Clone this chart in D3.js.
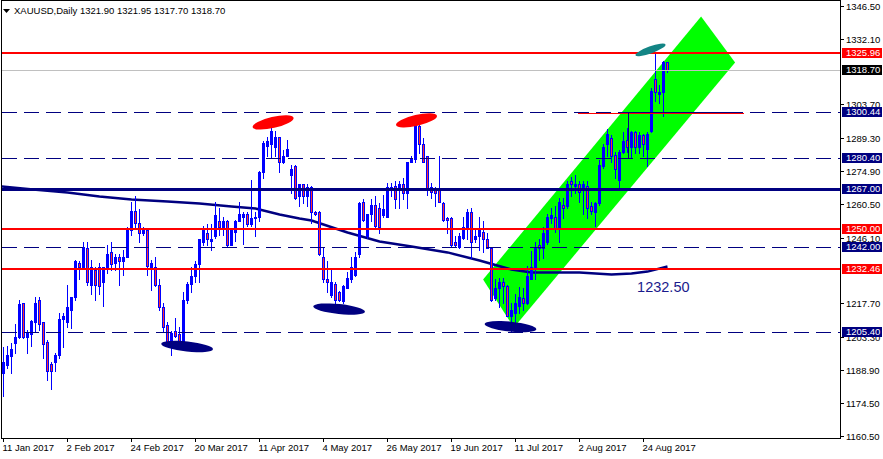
<!DOCTYPE html>
<html><head><meta charset="utf-8">
<script src="https://cdn.jsdelivr.net/npm/d3@7/dist/d3.min.js"></script>
<style>
body{margin:0;background:#fff;}
svg{display:block;}
text{font-family:"Liberation Sans",Arial,sans-serif;}
</style>
</head><body>
<svg id="c" width="883" height="459"></svg>
<script>
// ---------------- DATA ----------------
const symbolTitle = "XAUUSD,Daily";
const lastQuote = [1321.90, 1321.95, 1317.70, 1318.70];

const candleOpen = [1187.7,1191.2,1194.7,1200.3,1202.9,1217.6,1203.3,1204.6,1209.4,1219.3,1209.4,1201.1,1191.6,1192.5,1195.5,1210.7,1209.4,1214.6,1220.2,1234.9,
1233.6,1241.4,1225.4,1232.3,1233.2,1227.1,1233.2,1239.7,1234.9,1237.9,1235.8,1237.9,1249.6,1257.4,1252.6,1247.9,1249.6,1233.6,1233.6,1225.8,
1215.9,1208.1,1200.7,1205.5,1204.6,1199.0,1218.9,1226.2,1229.3,1234.5,1244.0,1248.3,1244.8,1246.6,1253.5,1250.5,1253.5,1243.1,1248.7,1253.5,
1255.2,1256.5,1251.8,1254.4,1255.2,1274.3,1285.9,1286.5,1285.1,1289.8,1279.0,1281.6,1273.0,1276.9,1263.9,1269.1,1263.9,1268.2,1257.0,1257.0,
1237.9,1228.4,1221.1,1226.2,1222.4,1218.5,1224.5,1228.0,1230.1,1238.8,1261.3,1246.6,1256.1,1260.4,1259.1,1255.7,1255.2,1268.2,1268.6,1266.9,
1269.1,1265.6,1279.0,1279.9,1294.2,1286.8,1281.2,1268.2,1266.9,1266.5,1260.9,1254.4,1254.4,1244.0,1242.2,1246.1,1250.5,1257.0,1245.3,1246.6,
1248.7,1245.3,1241.8,1219.8,1224.1,1227.1,1225.0,1212.4,1213.7,1216.7,1219.8,1217.6,1228.4,1233.6,1243.1,1241.8,1244.0,1254.4,1255.2,1250.0,
1260.4,1259.6,1270.4,1268.6,1269.1,1268.2,1268.6,1259.6,1257.0,1260.9,1276.9,1286.4,1289.4,1282.0,1271.2,1283.3,1288.5,1285.1,1291.6,1285.1,
1290.3,1284.6,1292.0,1314.9,1308.4,1308.9,1321.90];
const candleHigh = [1198.6,1199.0,1200.7,1208.9,1219.3,1217.8,1206.3,1210.4,1220.2,1220.6,1209.8,1202.0,1192.1,1196.4,1213.7,1213.7,1225.4,1220.6,1236.2,1235.8,
1244.4,1244.4,1236.6,1233.6,1234.9,1233.6,1243.1,1244.0,1238.8,1238.8,1240.9,1250.5,1261.3,1263.9,1258.3,1250.9,1250.0,1236.6,1237.5,1228.0,
1218.0,1209.8,1205.5,1211.5,1207.6,1222.4,1227.1,1233.6,1235.8,1245.7,1251.3,1252.2,1252.2,1261.3,1258.7,1254.8,1253.9,1249.6,1253.9,1261.3,
1257.0,1257.0,1271.2,1257.0,1274.7,1287.7,1289.8,1295.5,1292.4,1289.8,1284.2,1288.5,1277.7,1277.7,1269.5,1269.5,1269.5,1268.6,1257.8,1257.4,
1241.8,1235.8,1232.3,1227.1,1222.8,1225.4,1231.4,1237.5,1239.7,1261.3,1262.6,1256.1,1263.0,1263.9,1260.9,1264.7,1269.9,1269.9,1270.4,1270.4,
1272.1,1279.0,1281.2,1295.9,1295.9,1289.4,1281.6,1269.9,1267.8,1281.2,1261.7,1255.2,1254.8,1246.6,1248.3,1255.2,1258.3,1259.1,1249.6,1255.2,
1253.1,1248.3,1242.2,1228.0,1228.8,1228.8,1225.4,1218.0,1221.5,1224.9,1224.5,1234.0,1240.1,1244.4,1245.3,1250.5,1256.1,1259.1,1259.6,1263.4,
1263.4,1270.4,1272.5,1273.0,1270.8,1270.4,1270.4,1261.3,1261.7,1279.5,1286.4,1292.9,1290.3,1283.3,1283.8,1291.6,1293.7,1292.0,1292.0,1291.6,
1290.7,1291.6,1310.6,1326.2,1312.3,1322.3,1321.95];
const candleLow = [1177.4,1189.9,1187.7,1196.4,1202.5,1202.5,1196.4,1199.0,1205.5,1206.3,1194.2,1184.7,1180.8,1188.2,1194.2,1198.6,1207.6,1206.8,1219.3,1228.0,
1233.2,1225.4,1221.5,1219.3,1221.5,1216.7,1230.6,1232.3,1231.9,1225.8,1230.1,1237.5,1247.4,1250.9,1244.4,1247.4,1230.1,1223.6,1225.0,1215.0,
1205.9,1199.0,1195.5,1202.9,1198.6,1198.6,1218.0,1222.4,1226.7,1226.7,1243.1,1242.7,1240.9,1246.1,1247.4,1247.4,1242.2,1242.7,1244.8,1253.1,
1243.5,1251.3,1251.3,1247.0,1253.5,1271.7,1281.6,1280.7,1281.2,1274.3,1278.2,1281.2,1265.6,1263.0,1259.6,1260.9,1259.6,1252.6,1255.7,1238.4,
1227.1,1222.4,1220.6,1214.1,1218.5,1218.0,1224.1,1227.1,1229.7,1237.9,1253.1,1246.1,1253.1,1250.5,1247.9,1255.2,1254.8,1263.9,1259.1,1259.1,
1262.6,1259.1,1278.6,1279.0,1282.9,1278.6,1264.7,1263.4,1259.6,1261.3,1253.1,1248.3,1242.2,1242.2,1241.4,1245.3,1245.7,1237.1,1244.4,1240.9,
1239.7,1241.4,1218.5,1219.3,1216.3,1218.0,1212.0,1205.5,1208.9,1213.7,1215.0,1217.2,1228.0,1228.0,1236.6,1237.1,1243.5,1252.6,1248.7,1244.0,
1254.4,1259.1,1263.9,1265.6,1261.3,1256.5,1254.4,1256.5,1251.3,1260.4,1276.4,1281.6,1278.6,1272.1,1267.8,1282.9,1283.3,1280.7,1282.9,1282.9,
1281.2,1276.9,1291.6,1305.0,1304.5,1298.5,1317.70];
const candleClose = [1192.1,1195.5,1197.7,1202.9,1217.2,1203.3,1205.0,1210.2,1218.0,1208.9,1199.9,1188.6,1188.6,1195.5,1210.7,1212.4,1215.9,1220.2,1235.8,1233.6,
1242.2,1227.1,1233.6,1225.4,1225.0,1233.2,1239.2,1234.5,1237.9,1235.8,1237.9,1249.6,1257.4,1252.6,1247.9,1249.6,1234.0,1234.9,1225.4,1215.9,
1207.6,1200.7,1205.0,1203.7,1199.0,1218.9,1226.2,1229.7,1234.5,1245.3,1249.2,1245.7,1245.7,1255.7,1250.5,1253.5,1243.1,1249.2,1253.5,1256.5,
1256.1,1251.8,1254.4,1254.8,1274.3,1287.2,1287.7,1292.0,1289.8,1279.0,1281.6,1284.6,1275.6,1263.4,1269.5,1263.9,1268.2,1257.0,1256.1,1238.8,
1228.0,1227.1,1226.7,1219.3,1218.9,1225.0,1228.8,1233.2,1237.5,1260.9,1253.9,1256.1,1260.4,1251.3,1250.9,1258.3,1267.8,1266.5,1263.0,1269.1,
1265.6,1278.6,1279.9,1294.6,1286.8,1279.0,1266.9,1266.0,1265.6,1261.7,1253.9,1253.9,1243.1,1242.7,1246.6,1250.9,1257.0,1244.0,1247.0,1249.2,
1245.3,1241.8,1219.3,1224.1,1227.1,1225.0,1212.4,1214.6,1217.6,1220.6,1217.6,1229.3,1233.6,1242.2,1241.4,1248.3,1255.2,1255.7,1250.0,1261.3,
1258.7,1269.1,1269.5,1269.5,1266.0,1269.1,1259.1,1257.4,1260.9,1277.7,1285.5,1290.7,1281.2,1275.6,1283.3,1288.1,1285.1,1291.6,1285.1,1290.3,
1286.4,1291.1,1309.7,1309.3,1309.3,1321.9,1318.70];

// time axis (bar index of each date label)
const dateLabels = ["11 Jan 2017","2 Feb 2017","24 Feb 2017","20 Mar 2017","11 Apr 2017","4 May 2017","26 May 2017","19 Jun 2017","11 Jul 2017","2 Aug 2017","24 Aug 2017"];
const dateLabelBars = [0,16,32,48,64,80,96,112,128,144,160];

// price axis ticks (those fully hidden behind level boxes are omitted)
const priceTicks = [1346.50,1332.10,1303.70,1289.30,1274.90,1260.50,1246.10,1217.70,1203.30,1188.90,1174.50,1160.50];

// horizontal level lines
const levelPrices = [1325.96,1300.44,1280.40,1267.00,1250.00,1242.00,1232.46,1205.40];
const levelKinds  = ["major","minor","minor","trend","major","minor","major","minor"];
const bidPrice = 1318.70;

// moving average (bar index, value)
const maBars   = [-0.4,7.4,16,24,32,41,49,57,63,69,74,77,86,94,102,111,119,127,132,144,152,157,161,166];
const maValues = [1268.2,1266.9,1265.6,1263.9,1262.6,1261.7,1260.9,1259.6,1258.7,1256.1,1254.4,1253.5,1248.3,1244.4,1242.3,1239.7,1236.2,1232.3,1231.0,1231.0,1230.1,1230.6,1231.4,1233.6];
const maLabel = "1232.50";
const maLabelAt = [158.4, 1222.6];

// rising channel (bar index, price) vertices
const channelBars   = [119.9,174.4,182.9,127.6];
const channelPrices = [1228.0,1341.7,1321.8,1207.2];

// extra object near 1300
const boxBars = [156, 184];
const boxPrices = [1300.44, 1280.40];
const redSegBars = [143.5, 185];
const redSegPrice = 1300.0;

// hand-drawn marks (bar index, price)
const markBars   = [67.4,103.25,161.75,45.9,83.9,126.75];
const markPrices = [1295.9,1296.8,1327.3,1199.0,1215.2,1207.6];
const markKinds  = ["top","top","peak","bottom","bottom","bottom"];

// ---------------- DRAW ----------------
const svg = d3.select("#c");
const W = 883, H = 459;
const L = 2, R = 840, T = 1, B = 438;
const X = d3.scaleLinear().domain([0,200]).range([3.5,803.5]);
const Y = d3.scaleLinear().domain([1160.5,1346.5]).range([435.5,5.5]);
const NAVY = "#000080", RED = "#ff0000", BLUE = "#0000ff";

svg.append("rect").attr("width",W).attr("height",H).attr("fill","#fff");
svg.append("defs").append("clipPath").attr("id","clip")
  .append("rect").attr("x",L).attr("y",T).attr("width",R-L).attr("height",B-T);

const plot = svg.append("g").attr("clip-path","url(#clip)");

// channel
plot.append("polygon")
  .attr("points", channelBars.map((b,i)=>X(b)+","+Y(channelPrices[i])).join(" "))
  .attr("fill","#00ff00");

// moving average
plot.append("path")
  .datum(maBars.map((b,i)=>[b,maValues[i]]))
  .attr("d", d3.line().x(d=>X(d[0])).y(d=>Y(d[1])))
  .attr("fill","none").attr("stroke",NAVY).attr("stroke-width",2.5);

// candles
const cg = plot.append("g").attr("shape-rendering","crispEdges");
candleOpen.forEach((o,i)=>{
  const c = candleClose[i], h = candleHigh[i], l = candleLow[i];
  const px = Math.round(X(i)-0.5);
  const yh = Math.round(Y(h)), yl = Math.round(Y(l));
  cg.append("rect").attr("x",px).attr("width",1).attr("y",yh).attr("height",Math.max(1,yl-yh+1)).attr("fill",BLUE);
  const yt = Math.round(Y(Math.max(o,c))), yb = Math.round(Y(Math.min(o,c)));
  cg.append("rect").attr("x",px-1).attr("width",3).attr("y",yt).attr("height",Math.max(1,yb-yt+1)).attr("fill",BLUE);
  if (c < o && yb-yt >= 2) {
    cg.append("rect").attr("x",px).attr("width",1).attr("y",yt+1).attr("height",yb-yt-1).attr("fill","#ff3030");
  }
});

// bid line
const lg = plot.append("g").attr("shape-rendering","crispEdges");
lg.append("line").attr("x1",L).attr("x2",R).attr("y1",Math.round(Y(bidPrice))+0.5).attr("y2",Math.round(Y(bidPrice))+0.5)
  .attr("stroke","#c0c0c0").attr("stroke-width",1);

// red thin segment
lg.append("line").attr("x1",X(redSegBars[0])).attr("x2",X(redSegBars[1]))
  .attr("y1",Math.round(Y(redSegPrice))+0.5).attr("y2",Math.round(Y(redSegPrice))+0.5)
  .attr("stroke",RED).attr("stroke-width",1);

// levels
levelPrices.forEach((p,i)=>{
  const k = levelKinds[i];
  const yy = Math.round(Y(p));
  const ln = lg.append("line").attr("x1",L).attr("x2",R);
  if (k==="major") ln.attr("y1",yy).attr("y2",yy).attr("stroke",RED).attr("stroke-width",2);
  else if (k==="trend") ln.attr("y1",yy+0.5).attr("y2",yy+0.5).attr("stroke",NAVY).attr("stroke-width",3);
  else ln.attr("y1",yy+0.5).attr("y2",yy+0.5).attr("stroke",NAVY).attr("stroke-width",1).attr("stroke-dasharray","15,7");
});

lg.append("path")
  .attr("d", `M${X(boxBars[1])},${Math.round(Y(boxPrices[0]))+0.5}H${Math.round(X(boxBars[0]))+0.5}V${Math.round(Y(boxPrices[1]))}`)
  .attr("fill","none").attr("stroke",NAVY).attr("stroke-width",1);

// hand-drawn marks
const markStyle = {top:{c:RED,rx:21,ry:5.5,a:-13}, peak:{c:"#138585",rx:16,ry:3.5,a:-20}, bottom:{c:NAVY,rx:26,ry:5,a:6}};
markBars.forEach((b,i)=>{
  const s = markStyle[markKinds[i]];
  plot.append("ellipse").attr("cx",0).attr("cy",0).attr("rx",s.rx).attr("ry",s.ry)
    .attr("transform",`translate(${X(b)},${Y(markPrices[i])}) rotate(${s.a})`)
    .attr("fill",s.c);
});

// MA label
plot.append("text").attr("x",X(maLabelAt[0])).attr("y",Y(maLabelAt[1]))
  .attr("font-size","14.5px").attr("fill","#1a1a8c").text(maLabel);

// frame
svg.append("rect").attr("x",L-0.5).attr("y",T-0.5).attr("width",R-L+1).attr("height",B-T+1)
  .attr("fill","none").attr("stroke","#000").attr("stroke-width",1).attr("shape-rendering","crispEdges");

// price axis
const ag = svg.append("g");
priceTicks.forEach(p=>{
  const yy = Math.round(Y(p))+0.5;
  ag.append("line").attr("x1",R+0.5).attr("x2",R+4).attr("y1",yy).attr("y2",yy).attr("stroke","#000").attr("shape-rendering","crispEdges");
  ag.append("text").attr("x",R+6).attr("y",yy).attr("dy","0.35em").attr("font-size","9.5px").attr("fill","#000").text(p.toFixed(2));
});

// level boxes
const boxPricesAll = levelPrices.concat([bidPrice]);
const boxColors = levelKinds.map(k=>k==="major"?RED:NAVY).concat(["#000"]);
boxPricesAll.forEach((p,i)=>{
  const yy = Math.round(Y(p));
  ag.append("rect").attr("x",R+2).attr("y",yy-5).attr("width",40).attr("height",10).attr("fill",boxColors[i]).attr("shape-rendering","crispEdges");
  ag.append("text").attr("x",R+6).attr("y",yy).attr("dy","0.35em").attr("font-size","9.5px").attr("fill","#fff").text(p.toFixed(2));
});

// time axis
dateLabelBars.forEach((b,i)=>{
  const xx = Math.round(X(b)-0.5)+0.5;
  ag.append("line").attr("x1",xx).attr("x2",xx).attr("y1",B).attr("y2",B+4).attr("stroke","#000").attr("shape-rendering","crispEdges");
  ag.append("text").attr("x",xx-1).attr("y",451).attr("font-size","9.5px").attr("fill","#000").text(dateLabels[i]);
});

// title
svg.append("polygon").attr("points","3,9 10,9 6.5,13").attr("fill","#000");
svg.append("text").attr("x",14).attr("y",14).attr("font-size","9.5px").attr("fill","#000")
  .text(symbolTitle + "  " + lastQuote.map(v=>v.toFixed(2)).join(" "));
</script>
</body></html>
